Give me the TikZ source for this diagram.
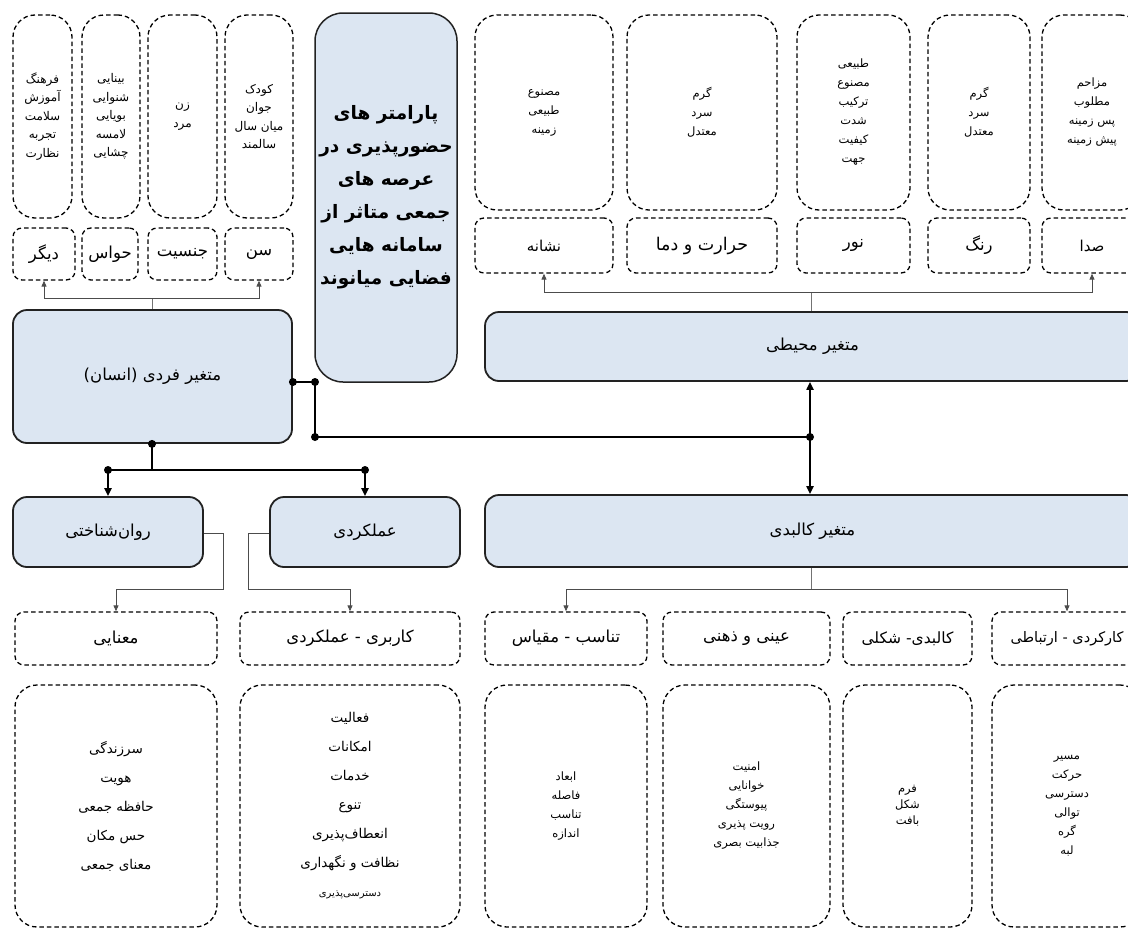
\documentclass[tikz,border=0pt]{standalone}
\usepackage{fontspec}
\usetikzlibrary{arrows.meta}
\TeXXeTstate=1
\newfontfamily\fa[Script=Arabic]{DejaVu Sans}
\newcommand{\prs}[1]{\beginR#1\endR}
\definecolor{boxblue}{HTML}{DCE6F2}
\definecolor{edge}{HTML}{222222}
\tikzset{
  dashbox/.style={draw=black, dash pattern=on 4.5pt off 3pt, line width=1.3pt, inner sep=0pt, align=center},
  lblbox/.style={dashbox, rounded corners=9pt},
  bigbox/.style={dashbox, rounded corners=22pt},
  mainbox/.style={draw=edge, line width=1.8pt, fill=boxblue, rounded corners=14pt, inner sep=0pt, align=center,
                  font=\fa\fontsize{16.5}{20}\selectfont},
  thinline/.style={draw=black!55, line width=0.9pt},
  thinarrow/.style={thinline, -{Triangle[length=6pt,width=5pt]}, draw=black!70},
  thickline/.style={draw=black, line width=2.8pt},
  thickarrow/.style={draw=black, line width=2.2pt, -{Triangle[length=8pt,width=7pt]}},
  dot/.style={circle, fill=black, inner sep=0pt, minimum size=8pt},
  lblfont/.style={font=\fa\fontsize{16.5}{18}\selectfont},
  tinyfont/.style={font=\fa\fontsize{12}{18.5}\selectfont},
  smallfont/.style={font=\fa\fontsize{11.5}{19}\selectfont},
  midfont/.style={font=\fa\fontsize{13.5}{29}\selectfont},
}
\begin{document}
\begin{tikzpicture}[x=1pt,y=-1pt]
\useasboundingbox (0,0) rectangle (1128,929);
\clip (0,0) rectangle (1128,929);

% ---------- top-left group ----------
\node[bigbox, tinyfont, minimum width=59, minimum height=203] (A1) at (42.5,116.5)
  {\prs{فرهنگ}\\\prs{آموزش}\\\prs{سلامت}\\\prs{تجربه}\\\prs{نظارت}};
\node[bigbox, tinyfont, minimum width=58, minimum height=203] (A2) at (111,116.5)
  {\prs{بینایی}\\\prs{شنوایی}\\\prs{بویایی}\\\prs{لامسه}\\\prs{چشایی}};
\node[bigbox, tinyfont, minimum width=69, minimum height=203] (A3) at (182.5,116.5)
  {\prs{زن}\\\prs{مرد}};
\node[bigbox, tinyfont, minimum width=68, minimum height=203] (A4) at (259,116.5)
  {\prs{کودک}\\\prs{جوان}\\\prs{میان سال}\\\prs{سالمند}};

\node[lblbox, lblfont, minimum width=62, minimum height=52] (L1) at (44,254) {\prs{دیگر}};
\node[lblbox, lblfont, minimum width=56, minimum height=52] (L2) at (110,254) {\prs{حواس}};
\node[lblbox, lblfont, minimum width=69, minimum height=52] (L3) at (182.5,254) {\prs{جنسیت}};
\node[lblbox, lblfont, minimum width=68, minimum height=52] (L4) at (259,254) {\prs{سن}};

% ---------- central box ----------
\node[mainbox, rounded corners=28pt, line width=1.5pt, minimum width=142, minimum height=369,
      font=\fa\bfseries\fontsize{18.5}{33}\selectfont] (C) at (386,197.5)
  {\prs{پارامتر های}\\\prs{حضورپذیری در}\\\prs{عرصه های}\\\prs{جمعی متاثر از}\\\prs{سامانه هایی}\\\prs{فضایی میانوند}};

% ---------- top-right group ----------
\node[bigbox, smallfont, minimum width=138, minimum height=195] (B1) at (544,112.5)
  {\prs{مصنوع}\\\prs{طبیعی}\\\prs{زمینه}};
\node[bigbox, smallfont, minimum width=150, minimum height=195] (B2) at (702,112.5)
  {\prs{گرم}\\\prs{سرد}\\\prs{معتدل}};
\node[bigbox, smallfont, minimum width=113, minimum height=195] (B3) at (853.5,112.5)
  {\prs{طبیعی}\\\prs{مصنوع}\\\prs{ترکیب}\\\prs{شدت}\\\prs{کیفیت}\\\prs{جهت}};
\node[bigbox, smallfont, minimum width=102, minimum height=195] (B4) at (979,112.5)
  {\prs{گرم}\\\prs{سرد}\\\prs{معتدل}};
\node[bigbox, smallfont, minimum width=100, minimum height=195] (B5) at (1092,112.5)
  {\prs{مزاحم}\\\prs{مطلوب}\\\prs{پس زمینه}\\\prs{پیش زمینه}};

\node[lblbox, font=\fa\fontsize{15}{18}\selectfont, minimum width=138, minimum height=55] (T1) at (544,245.5) {\prs{نشانه}};
\node[lblbox, font=\fa\fontsize{17.5}{18}\selectfont, minimum width=150, minimum height=55] (T2) at (702,245.5) {\prs{حرارت و دما}};
\node[lblbox, lblfont, minimum width=113, minimum height=55] (T3) at (853.5,245.5) {\prs{نور}};
\node[lblbox, lblfont, minimum width=102, minimum height=55] (T4) at (979,245.5) {\prs{رنگ}};
\node[lblbox, font=\fa\fontsize{15}{18}\selectfont, minimum width=100, minimum height=55] (T5) at (1092,245.5) {\prs{صدا}};

% ---------- main variable boxes ----------
\node[mainbox, minimum width=279, minimum height=133] (F) at (152.5,376.5) {\prs{متغیر فردی (انسان)}};
\node[mainbox, minimum width=655, minimum height=69] (M) at (812.5,346.5) {\prs{متغیر محیطی}};
\node[mainbox, minimum width=655, minimum height=72] (K) at (812.5,531) {\prs{متغیر کالبدی}};
\node[mainbox, minimum width=190, minimum height=70] (P) at (108,532) {\prs{روان‌شناختی}};
\node[mainbox, minimum width=190, minimum height=70] (Q) at (365,532) {\prs{عملکردی}};

% ---------- lower label boxes ----------
\node[lblbox, lblfont, minimum width=202, minimum height=53] (S1) at (116,638.5) {\prs{معنایی}};
\node[lblbox, lblfont, minimum width=220, minimum height=53] (S2) at (350,638.5) {\prs{کاربری - عملکردی}};
\node[lblbox, lblfont, minimum width=162, minimum height=53] (S3) at (566,638.5) {\prs{تناسب - مقیاس}};
\node[lblbox, lblfont, minimum width=167, minimum height=53] (S4) at (746.5,638.5) {\prs{عینی و ذهنی}};
\node[lblbox, font=\fa\fontsize{15.5}{18}\selectfont, minimum width=129, minimum height=53] (S5) at (907.5,638.5) {\prs{کالبدی- شکلی}};
\node[lblbox, font=\fa\fontsize{14.5}{18}\selectfont, minimum width=150, minimum height=53] (S6) at (1067,638.5) {\prs{کارکردی - ارتباطی}};

% ---------- lower item boxes ----------
\node[bigbox, midfont, minimum width=202, minimum height=242] (D1) at (116,806)
  {\prs{سرزندگی}\\\prs{هویت}\\\prs{حافظه جمعی}\\\prs{حس مکان}\\\prs{معنای جمعی}};
\node[bigbox, midfont, minimum width=220, minimum height=242] (D2) at (350,806)
  {\prs{فعالیت}\\\prs{امکانات}\\\prs{خدمات}\\\prs{تنوع}\\\prs{انعطاف‌پذیری}\\\prs{نظافت و نگهداری}\\{\fontsize{10}{29}\selectfont\prs{دسترسی‌پذیری}}};
\node[bigbox, smallfont, minimum width=162, minimum height=242] (D3) at (566,806)
  {\prs{ابعاد}\\\prs{فاصله}\\\prs{تناسب}\\\prs{اندازه}};
\node[bigbox, smallfont, minimum width=167, minimum height=242] (D4) at (746.5,806)
  {\prs{امنیت}\\\prs{خوانایی}\\\prs{پیوستگی}\\\prs{رویت پذیری}\\\prs{جذابیت بصری}};
\node[bigbox, font=\fa\fontsize{11.5}{16}\selectfont, minimum width=129, minimum height=242] (D5) at (907.5,806)
  {\prs{فرم}\\\prs{شکل}\\\prs{بافت}};
\node[bigbox, smallfont, minimum width=150, minimum height=242] (D6) at (1067,806)
  {\prs{مسیر}\\\prs{حرکت}\\\prs{دسترسی}\\\prs{توالی}\\\prs{گره}\\\prs{لبه}};

% ---------- thin connectors ----------
\coordinate (j1) at (152,298);
\draw[thinline] (F.north -| j1) -- (j1);
\draw[thinarrow] (j1) -| (L1.south);
\draw[thinarrow] (j1) -| (L4.south);

\coordinate (j2) at (811,292);
\draw[thinline] (M.north -| j2) -- (j2);
\draw[thinarrow] (j2) -| (T1.south);
\draw[thinarrow] (j2) -| (T5.south);

\coordinate (j3) at (811,589);
\draw[thinline] (K.south -| j3) -- (j3);
\draw[thinarrow] (j3) -| (S3.north);
\draw[thinarrow] (j3) -| (S6.north);

\coordinate (p1) at (223,533);
\coordinate (p2) at (223,589);
\draw[thinarrow] (P.east |- p1) -- (p1) -- (p2) -| (S1.north);
\coordinate (q1) at (248,533);
\coordinate (q2) at (248,589);
\draw[thinarrow] (Q.west |- q1) -- (q1) -- (q2) -| (S2.north);

% ---------- thick connectors ----------
\coordinate (k1) at (315,382);
\coordinate (k2) at (315,437);
\coordinate (k3) at (810,437);
\draw[thickline] (F.east |- k1) -- (k1) -- (k2) -- (k3);
\node[dot] (d1) at (F.east |- k1) {};
\node[dot] (d2) at (k1) {};
\node[dot] (d3) at (k2) {};
\node[dot] (d4) at (k3) {};
\draw[thickarrow] (k3) -- (M.south -| k3);
\draw[thickarrow] (k3) -- (K.north -| k3);

\coordinate (m1) at (152,470);
\coordinate (m2) at (108,470);
\coordinate (m3) at (365,470);
\draw[thickline] (F.south -| m1) -- (m1);
\draw[thickline] (m2) -- (m3);
\node[dot] (d5) at (F.south -| m1) {};
\node[dot] (d6) at (m2) {};
\node[dot] (d7) at (m3) {};
\draw[thickarrow] (m2) -- (P.north -| m2);
\draw[thickarrow] (m3) -- (Q.north -| m3);
\end{tikzpicture}
\end{document}
